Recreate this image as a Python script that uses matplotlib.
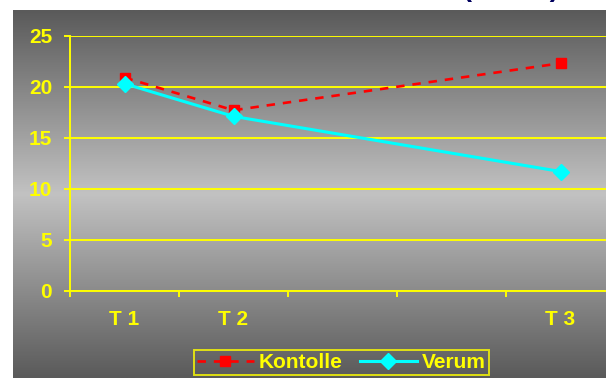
import numpy as np
import matplotlib
matplotlib.use("Agg")
import matplotlib.pyplot as plt
from matplotlib.colors import LinearSegmentedColormap

plt.rcParams['font.family'] = ['Liberation Sans', 'DejaVu Sans']
plt.rcParams['font.weight'] = 'bold'

# Categories along the time axis (two unlabeled gaps between T 2 and T 3)
categories = ["T 1", "T 2", "", "", "T 3"]
kontrolle = [20.9, 17.7, None, None, 22.3]
verum = [20.3, 17.1, None, None, 11.7]
y_ticks = [0, 5, 10, 15, 20, 25]

W, H = 606, 378
fig = plt.figure(figsize=(W / 100, H / 100), dpi=100)
fig.patch.set_facecolor("white")

# Grey slide panel with vertical dark-light-dark gradient
bg = fig.add_axes([13 / W, 0, 1 - 13 / W, (H - 10) / H], zorder=0)
cmap = LinearSegmentedColormap.from_list(
    "panel", ["#5a5a5a", "#c2c2c2", "#5a5a5a"])
grad = np.linspace(0, 1, 256).reshape(-1, 1)
bg.imshow(grad, aspect="auto", cmap=cmap, extent=[0, 1, 0, 1])
bg.set_axis_off()

# Heading sits above the slide; only the lower edge of it shows
fig.text(559 / W, (H + 3.8) / H, "(n = 20)", ha="right", va="baseline",
         fontsize=19.5, fontweight="bold", color="#00005e")

# Plot area (right edge continues beyond the figure)
left_px, right_px = 70, 615
top_px, bottom_px = 35.7, 291
ax = fig.add_axes([left_px / W, (H - bottom_px) / H,
                   (right_px - left_px) / W, (bottom_px - top_px) / H],
                  zorder=1)
ax.set_facecolor("none")

n = len(categories)
centers = np.arange(n) + 0.5

def series(vals):
    xs = [c for c, v in zip(centers, vals) if v is not None]
    ys = [v for v in vals if v is not None]
    return xs, ys

yellow = "#ffff00"
xk, yk = series(kontrolle)
xv, yv = series(verum)
ax.plot(xk, yk, color="#ff0000", lw=1.9, linestyle=(0, (3.2, 3.0)),
        marker="s", markersize=6.5, markerfacecolor="#ff0000",
        markeredgecolor="#ff0000", label="Kontolle", zorder=3)
ax.plot(xv, yv, color="#00ffff", lw=2.2, linestyle="-",
        marker="D", markersize=8.5, markerfacecolor="#00ffff",
        markeredgecolor="#00ffff", label="Verum", zorder=4)

ax.set_xlim(0, n)
ax.set_ylim(0, 25)

ax.set_yticks(y_ticks)
ax.set_yticklabels([str(t) for t in y_ticks])
ax.set_xticks(np.arange(0, n))
ax.set_xticklabels([])
ax.set_xticks(centers, minor=True)
ax.set_xticklabels(categories, minor=True)

ax.yaxis.grid(True, color=yellow, lw=1.4)
ax.set_axisbelow(True)

for side in ["top", "right"]:
    ax.spines[side].set_visible(False)
for side in ["left", "bottom"]:
    ax.spines[side].set_color(yellow)
    ax.spines[side].set_linewidth(1.4)

ax.tick_params(axis="y", which="major", direction="out", length=4.3,
               width=1.4, color=yellow, labelcolor=yellow, labelsize=15,
               pad=8.5)
ax.tick_params(axis="x", which="major", direction="out", length=4.3,
               width=1.4, color=yellow)
ax.tick_params(axis="x", which="minor", length=0, labelcolor=yellow,
               labelsize=15, pad=14)
for lbl in ax.get_yticklabels() + ax.get_xticklabels(minor=True):
    lbl.set_fontweight("bold")

leg = fig.legend(loc="center", bbox_to_anchor=(341.5 / W, 15.5 / H),
                 ncol=2, frameon=True, fontsize=15, numpoints=1,
                 handlelength=2.7, handletextpad=0.25, columnspacing=0.85,
                 borderpad=0.15, borderaxespad=0, fancybox=False)
frame = leg.get_frame()
frame.set_facecolor("none")
frame.set_edgecolor(yellow)
frame.set_linewidth(1.4)
for t in leg.get_texts():
    t.set_color(yellow)
    t.set_fontweight("bold")

fig.savefig("out.png", dpi=100)
